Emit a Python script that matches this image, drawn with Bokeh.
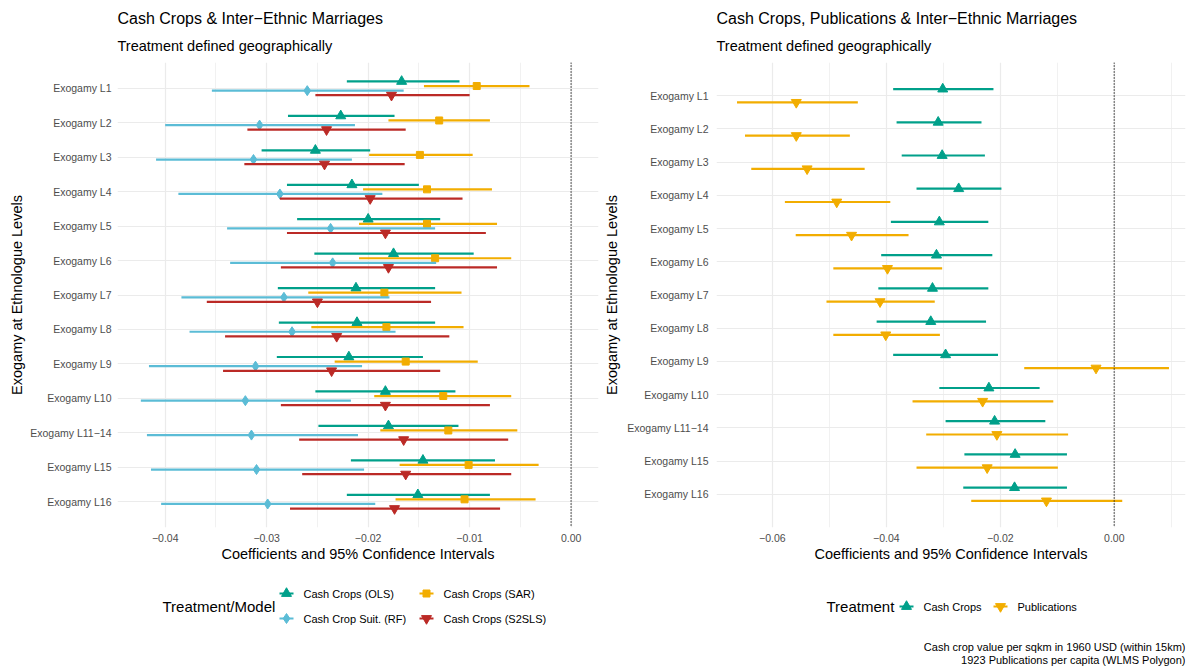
from bokeh.plotting import figure
from bokeh.models import FactorRange, Range1d, Span, Title, ColumnDataSource, FixedTicker
from bokeh.transform import dodge
from bokeh.layouts import row, column
from bokeh.core.properties import value
from bokeh.embed import file_html
from bokeh.resources import INLINE

FONT = "Liberation Sans"

levels = ["Exogamy L1", "Exogamy L2", "Exogamy L3", "Exogamy L4", "Exogamy L5",
          "Exogamy L6", "Exogamy L7", "Exogamy L8", "Exogamy L9", "Exogamy L10",
          "Exogamy L11−14", "Exogamy L15", "Exogamy L16"]

# ---- Left panel: Cash Crops & Inter-Ethnic Marriages ----
ols_est = [-0.0167, -0.0227, -0.0252, -0.0216, -0.0200, -0.0175, -0.0212, -0.0211, -0.0219, -0.0183, -0.0180, -0.0146, -0.0151]
ols_lo = [-0.0221, -0.0279, -0.0305, -0.0280, -0.0270, -0.0253, -0.0289, -0.0288, -0.0290, -0.0252, -0.0249, -0.0217, -0.0221]
ols_hi = [-0.0110, -0.0174, -0.0198, -0.0150, -0.0129, -0.0096, -0.0134, -0.0134, -0.0146, -0.0114, -0.0111, -0.0075, -0.0080]

sar_est = [-0.0093, -0.0130, -0.0149, -0.0142, -0.0142, -0.0134, -0.0184, -0.0182, -0.0163, -0.0126, -0.0121, -0.0101, -0.0105]
sar_lo = [-0.0145, -0.0180, -0.0199, -0.0205, -0.0209, -0.0209, -0.0259, -0.0256, -0.0233, -0.0194, -0.0188, -0.0169, -0.0173]
sar_hi = [-0.0041, -0.0080, -0.0097, -0.0078, -0.0073, -0.0059, -0.0108, -0.0106, -0.0092, -0.0059, -0.0053, -0.0032, -0.0035]

rf_est = [-0.0260, -0.0307, -0.0313, -0.0287, -0.0237, -0.0235, -0.0283, -0.0275, -0.0311, -0.0321, -0.0315, -0.0310, -0.0299]
rf_lo = [-0.0354, -0.0400, -0.0409, -0.0387, -0.0339, -0.0336, -0.0384, -0.0376, -0.0416, -0.0424, -0.0418, -0.0414, -0.0404]
rf_hi = [-0.0165, -0.0213, -0.0216, -0.0186, -0.0134, -0.0133, -0.0179, -0.0173, -0.0206, -0.0217, -0.0210, -0.0204, -0.0193]

s2sls_est = [-0.0177, -0.0241, -0.0243, -0.0198, -0.0183, -0.0180, -0.0250, -0.0231, -0.0236, -0.0183, -0.0165, -0.0163, -0.0174]
s2sls_lo = [-0.0252, -0.0319, -0.0322, -0.0287, -0.0280, -0.0286, -0.0359, -0.0341, -0.0343, -0.0286, -0.0268, -0.0265, -0.0277]
s2sls_hi = [-0.0100, -0.0163, -0.0164, -0.0107, -0.0084, -0.0073, -0.0138, -0.0120, -0.0129, -0.0080, -0.0062, -0.0059, -0.0070]

# ---- Right panel: Cash Crops, Publications & Inter-Ethnic Marriages ----
cc_est = [-0.0301, -0.0309, -0.0302, -0.0273, -0.0307, -0.0312, -0.0319, -0.0322, -0.0296, -0.0220, -0.0210, -0.0174, -0.0175]
cc_lo = [-0.0388, -0.0382, -0.0373, -0.0347, -0.0392, -0.0409, -0.0414, -0.0417, -0.0388, -0.0307, -0.0296, -0.0263, -0.0265]
cc_hi = [-0.0212, -0.0233, -0.0227, -0.0198, -0.0221, -0.0214, -0.0221, -0.0225, -0.0204, -0.0131, -0.0121, -0.0083, -0.0083]

pub_est = [-0.0558, -0.0558, -0.0539, -0.0487, -0.0461, -0.0398, -0.0411, -0.0401, -0.0032, -0.0231, -0.0206, -0.0223, -0.0119]
pub_lo = [-0.0662, -0.0648, -0.0637, -0.0578, -0.0559, -0.0493, -0.0505, -0.0493, -0.0158, -0.0354, -0.0330, -0.0347, -0.0251]
pub_hi = [-0.0450, -0.0464, -0.0438, -0.0393, -0.0361, -0.0302, -0.0315, -0.0306, 0.0096, -0.0107, -0.0081, -0.0099, 0.0014]

# ---- Axis ticks ----
xticks_left = [-0.04, -0.03, -0.02, -0.01, 0.0]
xlabels_left = ["−0.04", "−0.03", "−0.02", "−0.01", "0.00"]
xminor_left = [-0.045, -0.035, -0.025, -0.015, -0.005]
xticks_right = [-0.06, -0.04, -0.02, 0.0]
xlabels_right = ["−0.06", "−0.04", "−0.02", "0.00"]
xminor_right = [-0.07, -0.05, -0.03, -0.01, 0.01]

# ---- Texts ----
left_title = "Cash Crops & Inter−Ethnic Marriages"
right_title = "Cash Crops, Publications & Inter−Ethnic Marriages"
subtitle = "Treatment defined geographically"
x_title = "Coefficients and 95% Confidence Intervals"
y_title = "Exogamy at Ethnologue Levels"
left_legend_title = "Treatment/Model"
right_legend_title = "Treatment"
caption_lines = ["Cash crop value per sqkm in 1960 USD (within 15km)",
                 "1923 Publications per capita (WLMS Polygon)"]

# ---- Styles ----
GREEN = "#00A08A"
ORANGE = "#F2AD00"
BLUE = "#5BBCD6"
RED = "#BB2A26"

left_series = [
    dict(label="Cash Crops (OLS)", est=ols_est, lo=ols_lo, hi=ols_hi, color=GREEN, marker="triangle", size=10, off=0.2),
    dict(label="Cash Crops (SAR)", est=sar_est, lo=sar_lo, hi=sar_hi, color=ORANGE, marker="square", size=7, off=0.067),
    dict(label="Cash Crop Suit. (RF)", est=rf_est, lo=rf_lo, hi=rf_hi, color=BLUE, marker="diamond", size=10, off=-0.067),
    dict(label="Cash Crops (S2SLS)", est=s2sls_est, lo=s2sls_lo, hi=s2sls_hi, color=RED, marker="inverted_triangle", size=10, off=-0.2),
]
right_series = [
    dict(label="Cash Crops", est=cc_est, lo=cc_lo, hi=cc_hi, color=GREEN, marker="triangle", size=10, off=0.2),
    dict(label="Publications", est=pub_est, lo=pub_lo, hi=pub_hi, color=ORANGE, marker="inverted_triangle", size=10, off=-0.2),
]

TOP_H = 570
LEG_H = 99


def main_panel(width, border_left, border_right, xr, pad, series, xticks, xlabels, xminor,
               title, ylab_standoff, ytitle_standoff):
    p = figure(width=width, height=TOP_H, x_range=xr,
               y_range=FactorRange(factors=levels[::-1], range_padding=pad,
                                   range_padding_units="absolute"),
               title=None, output_backend="svg", toolbar_location=None,
               min_border_left=border_left, min_border_right=border_right,
               min_border_top=62, min_border_bottom=43)
    p.outline_line_color = None
    p.background_fill_color = "white"
    p.border_fill_color = "white"

    p.add_layout(Title(text=subtitle, text_font=FONT, text_font_size="14.5px",
                       text_font_style="normal", text_color="black", align="left",
                       standoff=18), "above")
    p.add_layout(Title(text=title, text_font=FONT, text_font_size="16px",
                       text_font_style="normal", text_color="black", align="left",
                       standoff=0), "above")

    p.xgrid.ticker = FixedTicker(ticks=xticks, minor_ticks=xminor)
    p.xaxis.ticker = FixedTicker(ticks=xticks, minor_ticks=xminor)
    p.xaxis.major_label_overrides = {t: l for t, l in zip(xticks, xlabels)}
    p.xgrid.grid_line_color = "#EBEBEB"
    p.xgrid.grid_line_width = 1.2
    p.xgrid.minor_grid_line_color = "#EBEBEB"
    p.xgrid.minor_grid_line_width = 0.7
    p.ygrid.grid_line_color = "#EBEBEB"
    p.ygrid.grid_line_width = 1.2

    for ax in (p.xaxis, p.yaxis):
        ax.axis_line_color = None
        ax.major_tick_line_color = None
        ax.minor_tick_line_color = None
        ax.major_label_text_font = FONT
        ax.major_label_text_font_size = "10.5px"
        ax.major_label_text_color = "#4D4D4D"
        ax.axis_label_text_font = FONT
        ax.axis_label_text_font_size = "14.5px"
        ax.axis_label_text_font_style = "normal"
        ax.axis_label_text_color = "black"
    p.xaxis.axis_label = x_title
    p.xaxis.major_label_standoff = 0
    p.xaxis.axis_label_standoff = 1
    p.yaxis.axis_label = y_title
    p.yaxis.major_label_standoff = ylab_standoff
    p.yaxis.axis_label_standoff = ytitle_standoff

    p.add_layout(Span(location=0, dimension="height", line_color="#222222",
                      line_width=1.5, line_dash="1 2"))

    for s in series:
        src = ColumnDataSource(dict(level=levels, est=s["est"], lo=s["lo"], hi=s["hi"]))
        yy = dodge("level", s["off"], range=p.y_range)
        p.segment(x0="lo", x1="hi", y0=yy, y1=yy, source=src,
                  line_color=s["color"], line_width=2.2)
        p.scatter(x="est", y=yy, source=src, marker=s["marker"], size=s["size"],
                  fill_color=s["color"], line_color=s["color"])
    return p


def legend_panel(width, border_left, border_right, fx0, fx1, series, key_x, key_y,
                 title_text, title_x, title_y, caption=None):
    # frame spans page x from fx0 to fx1 (aligned with the main panel frame)
    q = figure(width=width, height=LEG_H, x_range=Range1d(fx0, fx1),
               y_range=Range1d(TOP_H + LEG_H, TOP_H),
               output_backend="svg", toolbar_location=None,
               min_border_left=border_left, min_border_right=border_right,
               min_border_top=0, min_border_bottom=0,
               x_axis_location=None, y_axis_location=None)
    q.grid.visible = False
    q.outline_line_color = None
    q.background_fill_color = "white"
    q.border_fill_color = "white"
    q.text(x=[title_x], y=[title_y], text=[title_text], text_font=value(FONT),
           text_font_size="15px", text_color="black",
           text_baseline="middle", text_align="left")
    for s, kx, ky in zip(series, key_x, key_y):
        q.segment(x0=[kx - 7], x1=[kx + 7], y0=[ky], y1=[ky], line_color=s["color"], line_width=2.2)
        q.scatter(x=[kx], y=[ky], marker=s["marker"], size=s["size"],
                  fill_color=s["color"], line_color=s["color"])
        q.text(x=[kx + 17], y=[ky], text=[s["label"]], text_font=value(FONT),
               text_font_size="11px", text_color="black",
               text_baseline="middle", text_align="left")
    if caption:
        q.text(x=[fx1] * len(caption), y=[646 + 13 * i for i in range(len(caption))],
               text=caption, text_font=value(FONT), text_font_size="11px",
               text_color="black", text_baseline="middle", text_align="right")
    return q


p1 = main_panel(600, 117, 2, Range1d(-0.0447, 0.0027), 0.25, left_series,
                xticks_left, xlabels_left, xminor_left, left_title, 0, 2)
p2 = main_panel(589, 116, 4, Range1d(-0.0698, 0.0125), 0.5, right_series,
                xticks_right, xlabels_right, xminor_right, right_title, 2, 4)

l1 = legend_panel(600, 117, 2, 117, 598, left_series, [286, 426, 286, 426], [593, 593, 618, 618],
                  left_legend_title, 162, 606)
l2 = legend_panel(589, 116, 4, 716, 1185, right_series, [906, 1000], [606, 606],
                  right_legend_title, 826, 606, caption=caption_lines)

layout = row(column(p1, l1), column(p2, l2))
open("out.html", "w").write(file_html(layout, INLINE))
